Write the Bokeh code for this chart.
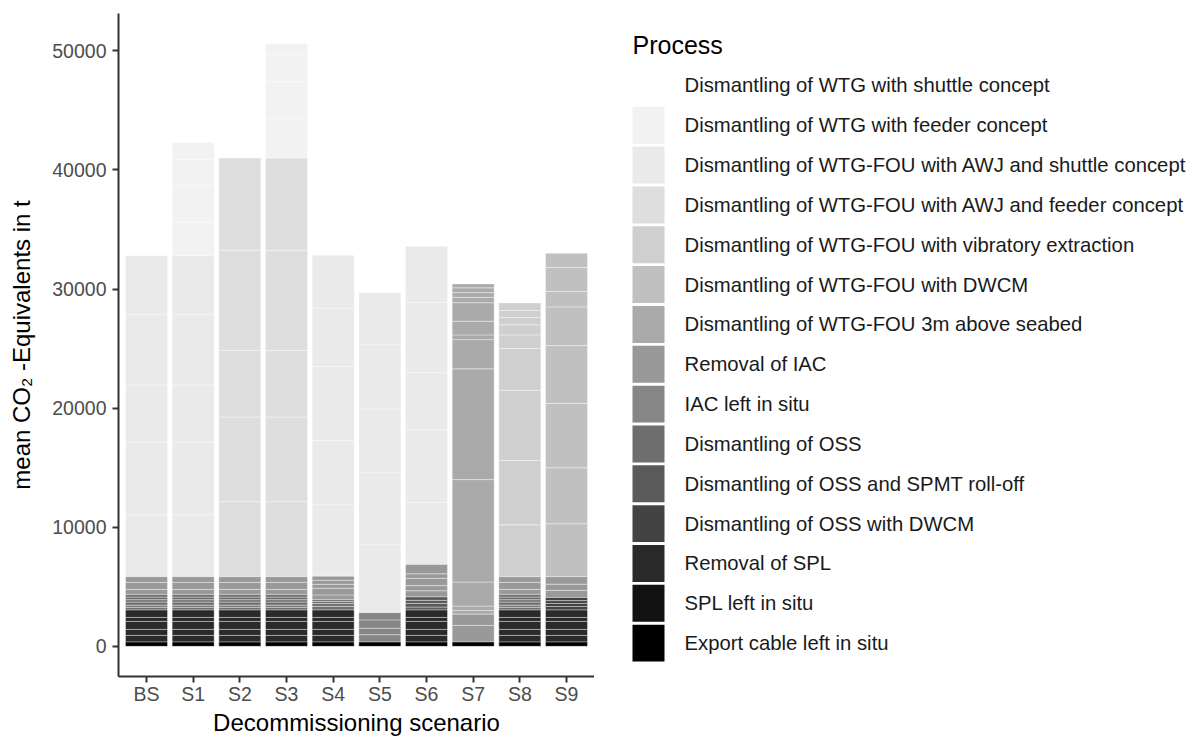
from bokeh.plotting import figure
from bokeh.layouts import row
from bokeh.models import (ColumnDataSource, FixedTicker, NumeralTickFormatter,
                          Range1d, FactorRange)
from bokeh.core.properties import value
from bokeh.embed import file_html
from bokeh.resources import INLINE

SCENARIOS = ["BS", "S1", "S2", "S3", "S4", "S5", "S6", "S7", "S8", "S9"]

PROCESSES = [
    "Dismantling of WTG with shuttle concept",
    "Dismantling of WTG with feeder concept",
    "Dismantling of WTG-FOU with AWJ and shuttle concept",
    "Dismantling of WTG-FOU with AWJ and feeder concept",
    "Dismantling of WTG-FOU with vibratory extraction",
    "Dismantling of WTG-FOU with DWCM",
    "Dismantling of WTG-FOU 3m above seabed",
    "Removal of IAC",
    "IAC left in situ",
    "Dismantling of OSS",
    "Dismantling of OSS and SPMT roll-off",
    "Dismantling of OSS with DWCM",
    "Removal of SPL",
    "SPL left in situ",
    "Export cable left in situ",
]

GREYS = ["#FFFFFF", "#F2F2F2", "#EAEAEA", "#DEDEDE", "#CFCFCF", "#C0C0C0",
         "#AAAAAA", "#999999", "#868686", "#6E6E6E", "#5A5A5A", "#434343",
         "#2A2A2A", "#121212", "#000000"]

Y_TICKS = [0, 10000, 20000, 30000, 40000, 50000]

# mean CO2-equivalents (t) per activity, stacked from the bottom up
BS_ROWS = [
    ("Export cable left in situ", [360]),
    ("Removal of SPL", [560, 505, 670, 335, 620]),
    ("Dismantling of OSS", [230, 180, 260, 200, 220, 220]),
    ("Removal of IAC", [420, 590, 480]),
    ("Dismantling of WTG-FOU with AWJ and shuttle concept",
     [5200, 6100, 4800, 5900, 4950]),
]
S1_ROWS = [
    ("Export cable left in situ", [360]),
    ("Removal of SPL", [560, 505, 670, 335, 620]),
    ("Dismantling of OSS", [230, 180, 260, 200, 220, 220]),
    ("Removal of IAC", [420, 590, 480]),
    ("Dismantling of WTG-FOU with AWJ and shuttle concept",
     [5200, 6100, 4800, 5900, 4950]),
    ("Dismantling of WTG with feeder concept", [2800, 3100, 2200, 1400]),
]
S2_ROWS = [
    ("Export cable left in situ", [360]),
    ("Removal of SPL", [560, 505, 670, 335, 620]),
    ("Dismantling of OSS", [230, 180, 260, 200, 220, 220]),
    ("Removal of IAC", [420, 590, 480]),
    ("Dismantling of WTG-FOU with AWJ and feeder concept",
     [6300, 7100, 5600, 8400, 7750]),
]
S3_ROWS = [
    ("Export cable left in situ", [360]),
    ("Removal of SPL", [560, 505, 670, 335, 620]),
    ("Dismantling of OSS", [230, 180, 260, 200, 220, 220]),
    ("Removal of IAC", [420, 590, 480]),
    ("Dismantling of WTG-FOU with AWJ and feeder concept",
     [6300, 7100, 5600, 8400, 7750]),
    ("Dismantling of WTG with feeder concept", [3300, 3100, 2300, 900]),
]
S4_ROWS = [
    ("Export cable left in situ", [360]),
    ("Removal of SPL", [560, 505, 670, 335, 620]),
    ("Dismantling of OSS", [300, 250, 180, 160]),
    ("Removal of IAC", [380, 560, 330, 340, 340]),
    ("Dismantling of WTG-FOU with AWJ and shuttle concept",
     [6000, 5400, 6200, 4900, 4450]),
]
S5_ROWS = [
    ("Export cable left in situ", [360]),
    ("IAC left in situ", [620, 540, 700, 610]),
    ("Dismantling of WTG-FOU with AWJ and shuttle concept",
     [5700, 6100, 5300, 5400, 4370]),
]
S6_ROWS = [
    ("Export cable left in situ", [360]),
    ("Removal of SPL", [560, 505, 670, 335, 620]),
    ("Dismantling of OSS and SPMT roll-off", [250, 300, 260, 290]),
    ("Removal of IAC", [520, 430, 610, 380, 790]),
    ("Dismantling of WTG-FOU with AWJ and shuttle concept",
     [5200, 6100, 4800, 5900, 4720]),
]
S7_ROWS = [
    ("Export cable left in situ", [360]),
    ("Removal of IAC", [1400, 940]),
    ("Dismantling of WTG-FOU 3m above seabed",
     [320, 360, 2020, 8600, 9300, 2450, 400, 1150, 1550, 450, 400, 400, 330]),
]
S8_ROWS = [
    ("Export cable left in situ", [360]),
    ("Removal of SPL", [560, 505, 670, 335, 620]),
    ("Dismantling of OSS", [230, 180, 260, 200, 220, 220]),
    ("Removal of IAC", [420, 590, 480]),
    ("Dismantling of WTG-FOU with vibratory extraction",
     [4350, 5400, 5900, 3500, 1150, 850, 600, 600, 630]),
]
S9_ROWS = [
    ("Export cable left in situ", [360]),
    ("Removal of SPL", [560, 505, 670, 335, 620]),
    ("Dismantling of OSS with DWCM", [300, 250, 240, 260]),
    ("Removal of IAC", [600, 520, 630]),
    ("Dismantling of WTG-FOU with DWCM",
     [4450, 4700, 5400, 4850, 3250, 1300, 2000, 1200]),
]

ROWS = dict(zip(SCENARIOS, [BS_ROWS, S1_ROWS, S2_ROWS, S3_ROWS, S4_ROWS,
                            S5_ROWS, S6_ROWS, S7_ROWS, S8_ROWS, S9_ROWS]))

# stack every activity on top of the previous one within its scenario
stacks = {proc: dict(x=[], bottom=[], top=[]) for proc in PROCESSES}
totals = []
for sc in SCENARIOS:
    level = 0.0
    for proc, parts in ROWS[sc]:
        for v in parts:
            stacks[proc]["x"].append(sc)
            stacks[proc]["bottom"].append(level)
            stacks[proc]["top"].append(level + v)
            level += v
    totals.append(level)

ymax = max(totals)
FONT = "Liberation Sans"
TOP, BOTTOM = 13, 61
W, H = 1196, 738
MAIN_W = 594

p = figure(
    x_range=FactorRange(factors=SCENARIOS, range_padding=0.1,
                        range_padding_units="absolute"),
    y_range=Range1d(-0.05 * ymax, 1.05 * ymax),
    width=MAIN_W, height=H,
    min_border_left=118, min_border_right=0,
    min_border_top=TOP, min_border_bottom=BOTTOM,
    output_backend="svg", toolbar_location=None,
    background_fill_color="white", border_fill_color="white",
)
p.outline_line_color = None
p.xgrid.visible = False
p.ygrid.visible = False

for proc, col in zip(PROCESSES, GREYS):
    p.vbar(x="x", bottom="bottom", top="top", width=0.9,
           source=ColumnDataSource(stacks[proc]),
           fill_color=col, line_color="white", line_width=0.5,
           line_alpha=0.75)

for ax in (p.xaxis[0], p.yaxis[0]):
    ax.axis_line_color = "#333333"
    ax.axis_line_width = 2
    ax.major_tick_line_color = "#333333"
    ax.major_tick_line_width = 2
    ax.major_tick_out = 6
    ax.major_tick_in = 0
    ax.minor_tick_line_color = None
    ax.major_label_text_font = FONT
    ax.major_label_text_font_size = "19.5px"
    ax.major_label_text_color = "#4d4d4d"
    ax.axis_label_text_font = FONT
    ax.axis_label_text_font_size = "24px"
    ax.axis_label_text_font_style = "normal"
    ax.axis_label_text_color = "black"

p.xaxis.axis_label = "Decommissioning scenario"
p.xaxis.major_label_standoff = 0
p.xaxis.axis_label_standoff = 1
p.yaxis.axis_label = "mean CO\u2082 -Equivalents in t"
p.yaxis.ticker = FixedTicker(ticks=Y_TICKS)
p.yaxis.formatter = NumeralTickFormatter(format="0")
p.yaxis.major_label_standoff = 6
p.yaxis.axis_label_standoff = 14

# legend panel: a key swatch and a label for each process, laid out in
# pixel space (y grows downwards, same vertical frame as the main plot)
LEG_W = W - MAIN_W
key_pitch = 39.9
first_key_y = 85
key_y = [first_key_y + key_pitch * i for i in range(len(PROCESSES))]

leg = figure(
    width=LEG_W, height=H,
    x_range=Range1d(0, LEG_W), y_range=Range1d(H - BOTTOM, TOP),
    min_border_left=0, min_border_right=0,
    min_border_top=TOP, min_border_bottom=BOTTOM,
    output_backend="svg", toolbar_location=None,
    background_fill_color="white", border_fill_color="white",
)
leg.outline_line_color = None
leg.axis.visible = False
leg.grid.visible = False

leg.quad(left=38, right=70,
         top=[y - 18.5 for y in key_y], bottom=[y + 18.5 for y in key_y],
         fill_color=GREYS, line_color=None)
leg.text(x=90, y=key_y, text=PROCESSES, text_baseline="middle",
         text_align="left", text_font=value(FONT), text_font_size="20.3px",
         text_color="#1a1a1a")
leg.text(x=[38], y=[45], text=["Process"], text_baseline="middle",
         text_align="left", text_font=value(FONT), text_font_size="25px",
         text_color="black")

layout = row(p, leg, spacing=0)
open("out.html", "w").write(file_html(layout, INLINE))
